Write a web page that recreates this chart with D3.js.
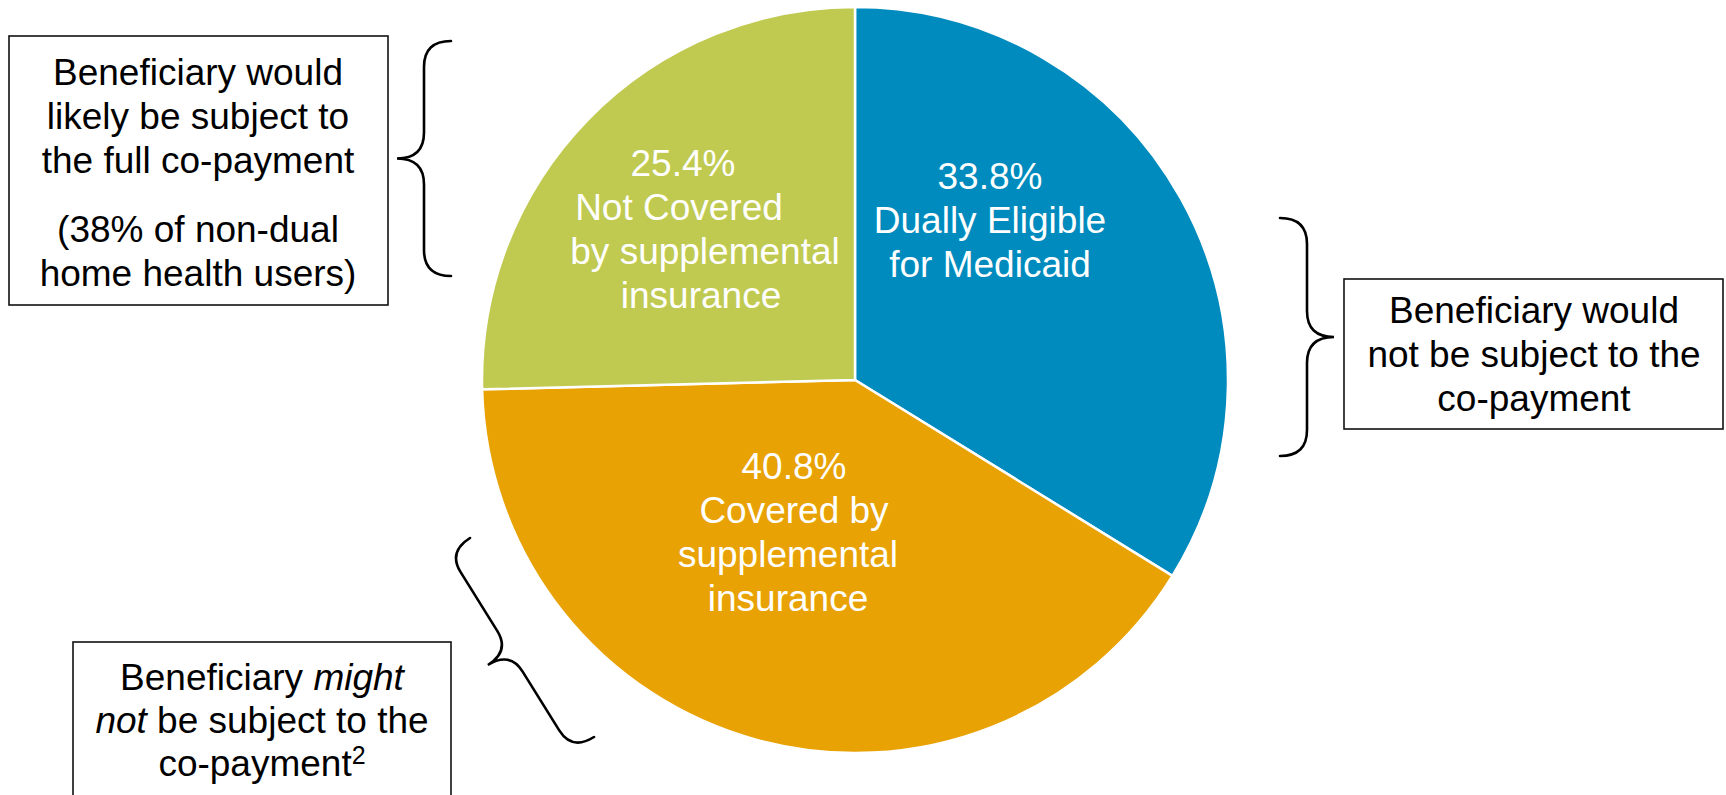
<!DOCTYPE html>
<html>
<head>
<meta charset="utf-8">
<script src="https://cdn.jsdelivr.net/npm/d3@7"></script>
<style>
    html, body { margin: 0; padding: 0; background: #fff; }
    #chart { width: 1726px; height: 795px; overflow: hidden; }
    text { font-family: "Liberation Sans", Arial, sans-serif; }
</style>
</head>
<body>
<div id="chart"></div>
<script>
// Slices, clockwise from 12 o'clock
var categories = ['Dually Eligible for Medicaid', 'Covered by supplemental insurance', 'Not Covered by supplemental insurance'];
var shares = [33.8, 40.8, 25.4];
var sliceColors = ['#008bbe', '#e8a204', '#c0ca50'];
var sliceLabels = [
    ['33.8%', 'Dually Eligible', 'for Medicaid'],
    ['40.8%', 'Covered by', 'supplemental', 'insurance'],
    ['25.4%', 'Not Covered', 'by supplemental', 'insurance']
];

// Annotation boxes
var noteLines = [
    ['Beneficiary would', 'likely be subject to', 'the full co-payment', '', '(38% of non-dual', 'home health users)'],
    ['Beneficiary would', 'not be subject to the', 'co-payment']
];

(function() {
    'use strict';

    var width = 1726, height = 795;
    var cx = 855, cy = 380, radius = 373;
    var fontSize = 37, lineH = 43.8;

    var svg = d3.select('#chart').append('svg')
        .attr('width', width)
        .attr('height', height)
        .attr('viewBox', [0, 0, width, height].join(' '));

    var pie = d3.pie().sort(null).value(function(d) { return d; });
    var arc = d3.arc().innerRadius(0).outerRadius(radius);
    var arcs = pie(shares);

    var g = svg.append('g').attr('transform', 'translate(' + cx + ',' + cy + ')');

    g.selectAll('path.slice')
        .data(arcs)
        .join('path')
        .attr('class', 'slice')
        .attr('d', arc)
        .attr('fill', function(d, i) { return sliceColors[i]; })
        .attr('stroke', '#fff')
        .attr('stroke-width', 2.5)
        .attr('stroke-linejoin', 'round');

    // label centres relative to pie centre (hand placed like the original)
    var labelPos = [[135, -160], [-61, 152], [-162, -151]];
    // small per-line nudges, the original had uneven spacing in the green label
    var lineNudge = [[0, 0, 0], [0, 0, -6, -6], [-10, -14, 12, 8]];

    arcs.forEach(function(a, i) {
        var lines = sliceLabels[i];
        var t = g.append('text')
            .attr('text-anchor', 'middle')
            .attr('fill', '#fff')
            .attr('font-size', fontSize + 'px');
        var y0 = labelPos[i][1] - (lines.length - 1) * lineH / 2 + 13;
        lines.forEach(function(line, j) {
            t.append('tspan')
                .attr('x', labelPos[i][0] + lineNudge[i][j])
                .attr('y', y0 + j * lineH)
                .text(line);
        });
    });

    // --- boxes ---
    function box(x, y, w, h) {
        svg.append('rect')
            .attr('x', x).attr('y', y)
            .attr('width', w).attr('height', h)
            .attr('fill', '#fff')
            .attr('stroke', '#111')
            .attr('stroke-width', 1.6);
    }

    function boxText(lines, x, y0, gapLine) {
        var t = svg.append('text')
            .attr('text-anchor', 'middle')
            .attr('fill', '#000')
            .attr('font-size', fontSize + 'px');
        var y = y0;
        lines.forEach(function(line) {
            if (line === '') { y += gapLine; return; }
            t.append('tspan').attr('x', x).attr('y', y).text(line);
            y += lineH;
        });
        return t;
    }

    box(9, 36, 379, 269);
    boxText(noteLines[0], 198, 85, 26);

    box(1344, 279, 379, 150);
    boxText(noteLines[1], 1534, 323);

    // bottom box has italics and a footnote mark
    box(73, 642, 378, 170);
    var t3 = svg.append('text')
        .attr('text-anchor', 'middle')
        .attr('fill', '#000')
        .attr('font-size', fontSize + 'px');
    var l1 = t3.append('tspan').attr('x', 262).attr('y', 690);
    l1.append('tspan').text('Beneficiary ');
    l1.append('tspan').attr('font-style', 'italic').text('might');
    var l2 = t3.append('tspan').attr('x', 262).attr('y', 733);
    l2.append('tspan').attr('font-style', 'italic').text('not');
    l2.append('tspan').text(' be subject to the');
    var l3 = t3.append('tspan').attr('x', 262).attr('y', 776);
    l3.append('tspan').text('co-payment');
    l3.append('tspan').attr('font-size', '25px').attr('dy', -12).text('2');

    // --- curly braces ---
    // drawn in a local frame: x along p1->p2, y towards the tip
    function brace(p1, p2, h, r) {
        var dx = p2[0] - p1[0], dy = p2[1] - p1[1];
        var L = Math.sqrt(dx * dx + dy * dy);
        var ang = Math.atan2(dy, dx) * 180 / Math.PI;
        var m = L / 2;
        var p = d3.path();
        p.moveTo(0, 0);
        p.quadraticCurveTo(0, h, r, h);
        p.lineTo(m - r, h);
        p.quadraticCurveTo(m, h, m, 2 * h);
        p.quadraticCurveTo(m, h, m + r, h);
        p.lineTo(L - r, h);
        p.quadraticCurveTo(L, h, L, 0);
        svg.append('path')
            .attr('transform', 'translate(' + p1[0] + ',' + p1[1] + ') rotate(' + ang + ')')
            .attr('d', p.toString())
            .attr('fill', 'none')
            .attr('stroke', '#000')
            .attr('stroke-width', 2.6)
            .attr('stroke-linecap', 'round');
    }

    brace([451, 41], [451, 276], 27, 26);
    brace([1280, 456], [1280, 218], 27, 26);
    brace([470, 538], [594, 737], 26, 24);
})();
</script>
</body>
</html>
